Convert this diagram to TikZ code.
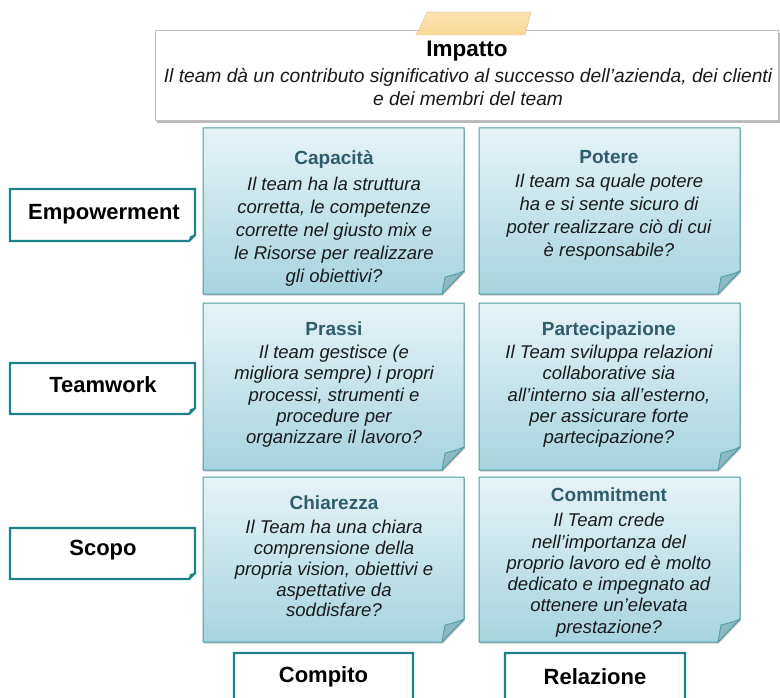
\documentclass[tikz,border=0pt]{standalone}
\usepackage{fontspec}
\setmainfont{Liberation Sans}
\usetikzlibrary{shadows}
\definecolor{cardtop}{HTML}{E6F3F7}
\definecolor{cardbot}{HTML}{A6D4DE}
\definecolor{cardedge}{HTML}{4E9CA3}
\definecolor{foldc}{HTML}{8CB9C2}
\definecolor{labedge}{HTML}{1F8288}
\definecolor{titlec}{HTML}{2E5E6C}
\definecolor{bodyc}{HTML}{1A1A1A}
\definecolor{tapec}{HTML}{FAD898}
\definecolor{tapet}{HTML}{FCE4B0}
\tikzset{
  cardshape/.style={top color=cardtop, bottom color=cardbot, draw=cardedge, line width=1pt,
    drop shadow={shadow xshift=1pt, shadow yshift=-1.5pt, opacity=.35, fill=black!60}},
  foldshape/.style={fill=foldc, draw=cardedge, line width=.8pt, line join=round},
  cardtext/.style={align=center, anchor=north, inner sep=0pt, text=bodyc,
    font=\fontsize{18.5}{#1}\selectfont\itshape},
  cardtext/.default=23,
  labshape/.style={fill=white, draw=labedge, line width=2.2pt, line join=miter},
  labtext/.style={font=\fontsize{22}{26}\selectfont\bfseries, text=black, inner sep=0pt},
}
\newcommand\notecard[4]{%
  \path[cardshape] (#1,#2) -- (#3,#2) -- (#3,#4-23) -- (#3-22,#4) -- (#1,#4) -- cycle;
  \path[foldshape] (#3,#4-23) .. controls (#3-7,#4-20) .. (#3-19,#4-17) -- (#3-22,#4) -- cycle;
}
\newcommand\labbox[4]{%
  \path[labshape] (#1,#2) -- (#3,#2) -- (#3,#4-6) -- (#3-6,#4) -- (#1,#4) -- cycle;
  \fill[labedge] (#3,#4-6) -- (#3-5,#4-5) -- (#3-6,#4) -- cycle;
}
\newcommand\ctitle[1]{{\fontsize{19}{23}\selectfont\bfseries\upshape\color{titlec}#1}}
\begin{document}
\begin{tikzpicture}[x=1pt,y=-1pt]
\useasboundingbox[fill=white] (0,0) rectangle (780,698);

% Impatto box
\path[fill=white, draw=black!25, line width=.8pt,
  drop shadow={shadow xshift=2pt, shadow yshift=-3pt, opacity=.45, fill=black!60}]
  (155,30) rectangle (778,120);
\path[top color=tapet, bottom color=tapec, draw=tapec!85!black, line width=.3pt]
  (416,35) .. controls (420,28) .. (427,12) -- (531,12) -- (525,35) -- cycle;
\node[font=\fontsize{22.5}{26}\selectfont\bfseries, inner sep=0pt] (impT) at (467,51) {Impatto};
\node[align=center, inner sep=0pt, font=\fontsize{19.2}{23}\selectfont\itshape, text=bodyc, anchor=north]
  (impD) at (468,68) {Il team dà un contributo significativo al successo dell’azienda, dei clienti\\e dei membri del team};

% cards
\notecard{203}{128}{464}{294}
\notecard{479}{128}{740}{294}
\notecard{203}{303}{464}{470}
\notecard{479}{303}{740}{470}
\notecard{203}{477}{464}{642}
\notecard{479}{477}{740}{642}

\node[cardtext=23] (capacita) at (334,150.5) {\ctitle{Capacità}\\[3pt]Il team ha la struttura\\corretta, le competenze\\corrette nel giusto mix e\\le Risorse per realizzare\\gli obiettivi?};
\node[cardtext=23] (potere) at (609,150.5) {\ctitle{Potere}\\[1pt]Il team sa quale potere\\ha e si sente sicuro di\\poter realizzare ciò di cui\\è responsabile?};
\node[cardtext=21.2] (prassi) at (334,321.5) {\ctitle{Prassi}\\[2pt]Il team gestisce (e\\migliora sempre) i propri\\processi, strumenti e\\procedure per\\organizzare il lavoro?};
\node[cardtext=21.2] (partecipazione) at (609,321.5) {\ctitle{Partecipazione}\\[2pt]Il Team sviluppa relazioni\\collaborative sia\\all’interno sia all’esterno,\\per assicurare forte\\partecipazione?};
\node[cardtext=20.8] (chiarezza) at (334,495.5) {\ctitle{Chiarezza}\\[3.5pt]Il Team ha una chiara\\comprensione della\\propria vision, obiettivi e\\aspettative da\\soddisfare?};
\node[cardtext=21.3] (commitment) at (609,487.5) {\ctitle{Commitment}\\[4pt]Il Team crede\\nell’importanza del\\proprio lavoro ed è molto\\dedicato e impegnato ad\\ottenere un’elevata\\prestazione?};

% side labels
\labbox{10}{189}{195}{241}
\labbox{10}{363}{195}{414}
\labbox{10}{528}{195}{579}
\node[labtext] (empowerment) at (104,214) {Empowerment};
\node[labtext] (teamwork) at (103,385) {Teamwork};
\node[labtext] (scopo) at (103,550) {Scopo};

% bottom labels
\labbox{234}{653}{413}{706}
\labbox{505}{653}{685}{706}
\node[labtext] (compito) at (323.5,677) {Compito};
\node[labtext] (relazione) at (595,677) {Relazione};
\end{tikzpicture}
\end{document}
